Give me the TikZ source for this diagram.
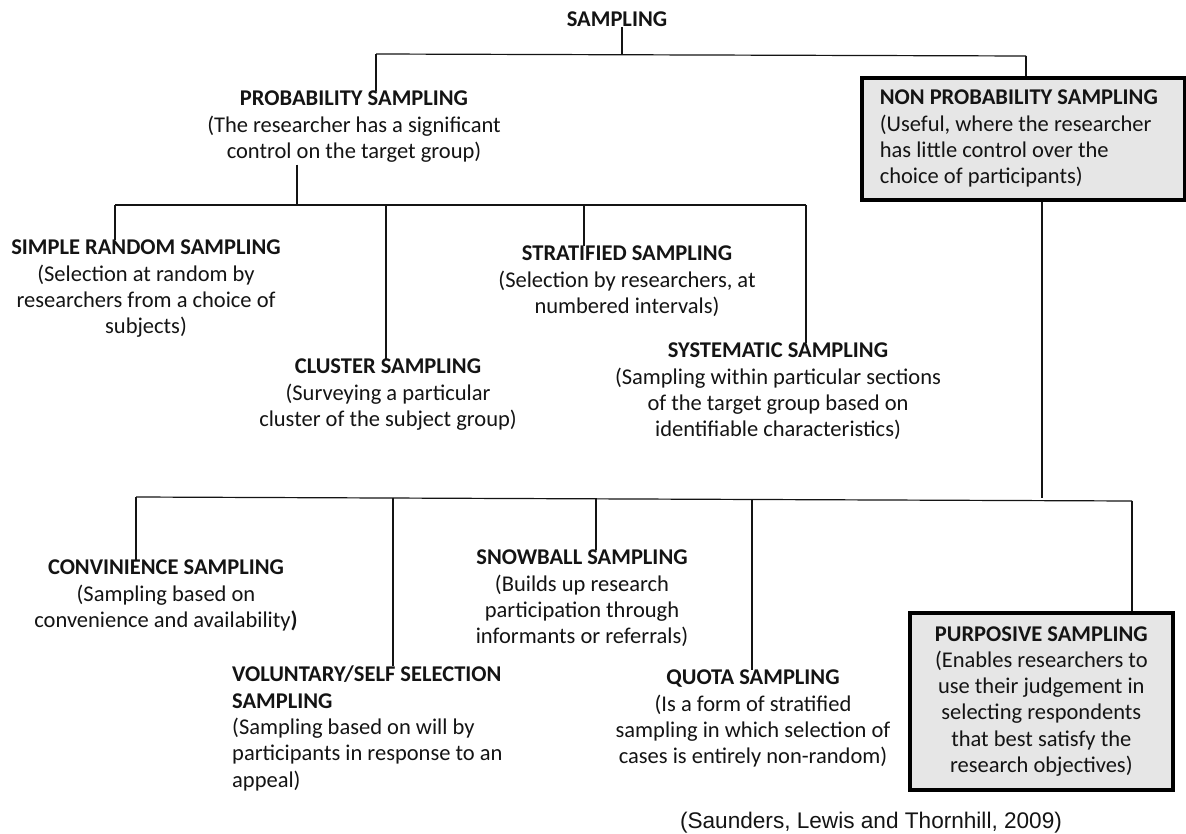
\documentclass[tikz,border=0pt]{standalone}
\usepackage{fontspec}
\setmainfont{Carlito}
\newfontfamily\citefont{Liberation Sans}
\definecolor{boxfill}{RGB}{230,230,230}
\definecolor{ink}{RGB}{20,20,20}
\begin{document}
\begin{tikzpicture}[x=1pt,y=-1pt,
  lbl/.style={inner sep=0pt, align=center, text=ink, font=\fontsize{22.5}{26.3}\selectfont},
  lbll/.style={lbl, align=flush left},
  conn/.style={draw=ink, line width=1.2pt},
  greybox/.style={draw=black, line width=3.6pt, fill=boxfill, inner sep=0pt},
]
\useasboundingbox[fill=white] (0,0) rectangle (1186,834);

% nodes
\node[lbl, anchor=north] (root) at (617,12) {\textbf{SAMPLING}};
\node[lbl, anchor=north] (prob) at (354,91) {\textbf{PROBABILITY SAMPLING}\\(The researcher has a significant\\control on the target group)};
\node[greybox, lbll, minimum width=323pt, minimum height=122pt, text width=287pt, inner xsep=18pt, anchor=north west] (np) at (860,76)
  {\textbf{NON PROBABILITY SAMPLING}\\(Useful, where the researcher\\has little control over the\\choice of participants)};
\node[lbl, anchor=north] (srs) at (146,240) {\textbf{SIMPLE RANDOM SAMPLING}\\(Selection at random by\\researchers from a choice of\\subjects)};
\node[lbl, anchor=north] (strat) at (627,246) {\textbf{STRATIFIED SAMPLING}\\(Selection by researchers, at\\numbered intervals)};
\node[lbl, anchor=north] (cluster) at (388,359) {\textbf{CLUSTER SAMPLING}\\(Surveying a particular\\cluster of the subject group)};
\node[lbl, anchor=north] (syst) at (778,343) {\textbf{SYSTEMATIC SAMPLING}\\(Sampling within particular sections\\of the target group based on\\identifiable characteristics)};
\node[lbl, anchor=north] (conv) at (166,560) {\textbf{CONVINIENCE SAMPLING}\\(Sampling based on\\convenience and availability\textbf{)}};
\node[lbll, anchor=north west] (vol) at (232,666) {\textbf{VOLUNTARY/SELF SELECTION}\\\textbf{SAMPLING}\\(Sampling based on will by\\participants in response to an\\appeal)};
\node[lbl, anchor=north] (snow) at (582,550) {\textbf{SNOWBALL SAMPLING}\\(Builds up research\\participation through\\informants or referrals)};
\node[lbl, anchor=north] (quota) at (753,670) {\textbf{QUOTA SAMPLING}\\(Is a form of stratified\\sampling in which selection of\\cases is entirely non-random)};
\node[greybox, lbl, minimum width=263pt, minimum height=177pt, anchor=north west] (purp) at (908,611)
  {\textbf{PURPOSIVE SAMPLING}\\(Enables researchers to\\use their judgement in\\selecting respondents\\that best satisfy the\\research objectives)};
\node[inner sep=0pt, text=ink, font=\citefont\fontsize{22.6}{26}\selectfont] (cite) at (871,823) {(Saunders, Lewis and Thornhill, 2009)};

% junctions
\coordinate (jr) at (622,55);
\coordinate (jl) at (376,54);
\coordinate (jn) at (1026,56);
\coordinate (jp) at (297,205);
\coordinate (a1) at (115,205);
\coordinate (a2) at (386,205);
\coordinate (a3) at (584,205);
\coordinate (a4) at (806,205);
\coordinate (jq) at (1042,498);
\coordinate (b1) at (136,497);
\coordinate (b2) at (393,497.5);
\coordinate (b3) at (596,498);
\coordinate (b4) at (752,499);
\coordinate (b5) at (1132,501);

% connectors
\draw[conn] (root.south -| jr) -- (jr);
\draw[conn] (jl) -- (jn);
\draw[conn] (jl) -- (prob.north -| jl);
\draw[conn] (jn) -- (np.north -| jn);
\draw[conn] (prob.south -| jp) ++(0,2) -- (jp);
\draw[conn] (a1) -- (a4);
\draw[conn] (a1) -- (srs.north -| a1);
\draw[conn] (a2) -- (cluster.north -| a2);
\draw[conn] (a3) -- (strat.north -| a3);
\draw[conn] (a4) -- (syst.north -| a4);
\draw[conn] (np.south -| jq) -- (jq);
\draw[conn] (b1) -- (b5);
\draw[conn] (b1) -- (conv.north -| b1);
\draw[conn] (b2) -- (vol.north -| b2);
\draw[conn] (b3) -- (snow.north -| b3);
\draw[conn] (b4) -- (quota.north -| b4);
\draw[conn] (b5) -- (purp.north -| b5);
\end{tikzpicture}
\end{document}
